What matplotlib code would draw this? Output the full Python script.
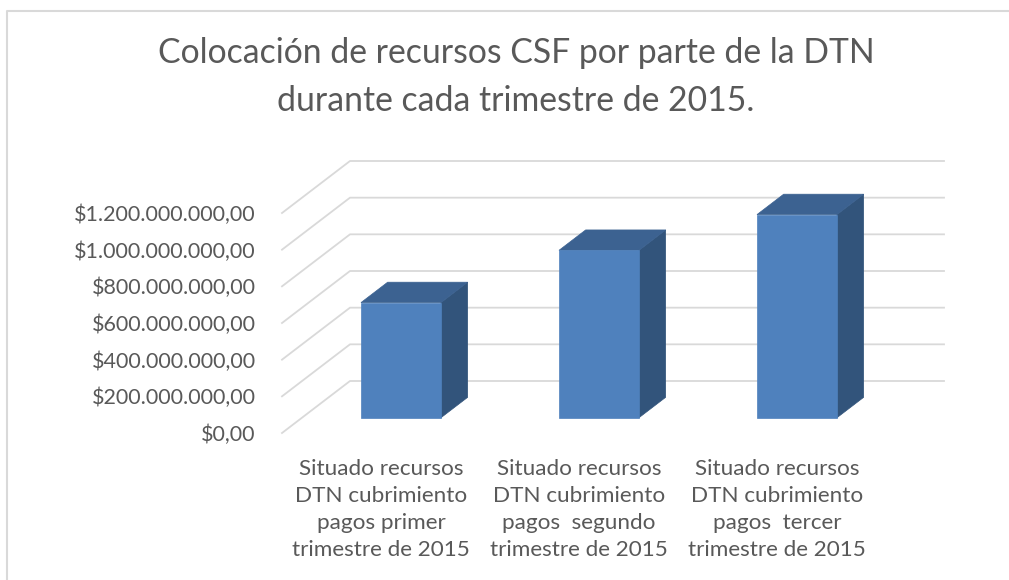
import numpy as np
import matplotlib.pyplot as plt
from matplotlib.patches import Polygon
from matplotlib.lines import Line2D
from matplotlib.ticker import FuncFormatter

plt.rcParams['font.family'] = ['Lato', 'DejaVu Sans']

# data
categories = [
    'Situado recursos\nDTN cubrimiento\npagos primer\ntrimestre de 2015',
    'Situado recursos\nDTN cubrimiento\npagos  segundo\ntrimestre de 2015',
    'Situado recursos\nDTN cubrimiento\npagos  tercer\ntrimestre de 2015',
]
values = [628000000, 913000000, 1108000000]
yticks = [0, 200000000, 400000000, 600000000, 800000000, 1000000000, 1200000000]
title = 'Colocación de recursos CSF por parte de la DTN\ndurante cada trimestre de 2015.'

W, H = 1009, 580
fig = plt.figure(figsize=(W / 100, H / 100), dpi=100)

# front plane of the 3D box, in pixels
x0, x1 = 282, 876
yb, yt = 433, 213
ax = fig.add_axes([x0 / W, 1 - yb / H, (x1 - x0) / W, (yb - yt) / H])
ax.set_xlim(0, 3)
ax.set_ylim(0, 1.2e9)

# oblique depth: full depth -> +68 px right, -52 px up
ddx = 68 / (x1 - x0) * 3
ddy = 52 / (yb - yt) * 1.2e9


def proj(x, y, d):
    return (x + d * ddx, y + d * ddy)


grid_c = '#D9D9D9'
for v in yticks:
    a = proj(0, v, 0)
    b = proj(0, v, 1)
    c = proj(3, v, 1)
    ax.add_line(Line2D([a[0], b[0], c[0]], [a[1], b[1], c[1]], color=grid_c,
                       lw=1.3, clip_on=False, zorder=1))

front_c = '#4F81BD'
top_c = '#3C6291'
side_c = '#32547B'
bw = 0.404
d0, d1 = 0.294, 0.686
for i, v in enumerate(values):
    xl = i + 0.5 - bw / 2
    xr = i + 0.5 + bw / 2
    side = [proj(xr, 0, d0), proj(xr, 0, d1), proj(xr, v, d1), proj(xr, v, d0)]
    top = [proj(xl, v, d0), proj(xl, v, d1), proj(xr, v, d1), proj(xr, v, d0)]
    front = [proj(xl, 0, d0), proj(xr, 0, d0), proj(xr, v, d0), proj(xl, v, d0)]
    for pts, col in [(side, side_c), (top, top_c), (front, front_c)]:
        ax.add_patch(Polygon(pts, closed=True, facecolor=col, edgecolor=col,
                             lw=0.5, clip_on=False, zorder=3))

for s in ax.spines.values():
    s.set_visible(False)
ax.set_yticks(yticks)
ax.yaxis.set_major_formatter(FuncFormatter(
    lambda v, p: '$' + f'{v:,.2f}'.replace(',', 'X').replace('.', ',').replace('X', '.')))
ax.set_xticks([0.5, 1.5, 2.5])
ax.set_xticklabels(categories, linespacing=1.43)
ax.tick_params(axis='y', length=0, pad=19, labelsize=15.5, labelcolor='#595959')
ax.tick_params(axis='x', length=0, pad=19, labelsize=16.2, labelcolor='#595959')
ax.set_facecolor('none')

fig.text(516 / W, 1 - 77 / H, title, ha='center', va='center',
         fontsize=24.3, color='#595959', linespacing=1.6)

# chart border
fig.add_artist(Line2D([7 / W, 7 / W, 1.0], [0, 1 - 11 / H, 1 - 11 / H],
                      transform=fig.transFigure, color=grid_c, lw=1.5))

fig.savefig('out.png', dpi=100)
